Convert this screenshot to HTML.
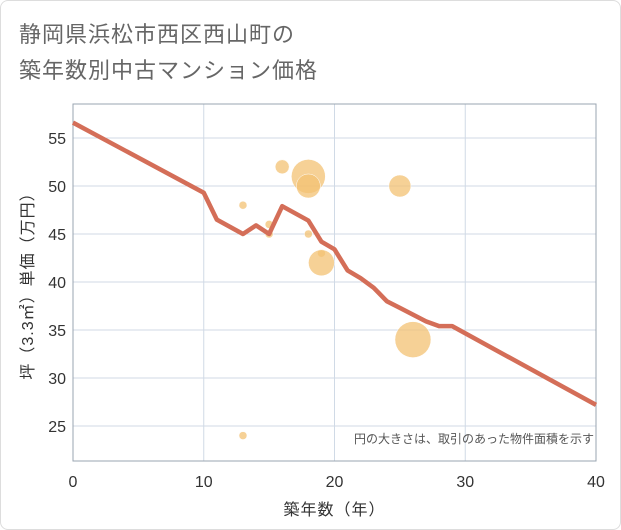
<!DOCTYPE html>
<html><head><meta charset="utf-8">
<style>
html,body{margin:0;padding:0;background:#fff;}
#wrap{position:relative;width:619px;height:528px;border:1px solid #ddd;border-radius:8px;overflow:hidden;font-family:"Liberation Sans","Noto Sans CJK JP",sans-serif;}
.title{position:absolute;left:18px;font-size:22px;color:#666;letter-spacing:1px;}
</style></head><body>
<div id="wrap">
<div class="title" style="top:16px">静岡県浜松市西区西山町の</div>
<div class="title" style="top:52px">築年数別中古マンション価格</div>
<svg id="chart" width="621" height="530" style="position:absolute;left:-1px;top:-1px"></svg>
</div>
<script>
const xTicks=[0,10,20,30,40];
const yTicks=[25,30,35,40,45,50,55];
const lineX=[0,10,11,13,14,15,16,18,19,20,21,22,23,24,25,26,27,28,29,40];
const lineY=[56.6,49.3,46.5,45,45.9,45,47.9,46.4,44.2,43.4,41.2,40.4,39.4,38,37.3,36.6,35.9,35.4,35.4,27.2];
const bubX=[13,13,15,15,16,18,18,18,19,19,25,26];
const bubY=[48,24,46,45,52,51,50,45,43,42,50,34];
const bubSize=[4,4,4,4,7,17,12,4,4,13,11,18];
const L=73,R=596,T=104,B=461;
const sx=v=>L+(v-0)/(40-0)*(R-L);
const sy=v=>186+(50-v)*9.6;
const NS="http://www.w3.org/2000/svg";
const svg=document.getElementById('chart');
function mk(t,a){const e=document.createElementNS(NS,t);for(const k in a)e.setAttribute(k,a[k]);svg.appendChild(e);return e;}
xTicks.forEach(v=>{
 const g=mk('line',{x1:sx(v),x2:sx(v),y1:T,y2:B,stroke:'#d0dae6','stroke-width':1});
 
 
 const t=mk('text',{x:sx(v),y:487,'text-anchor':'middle','font-size':16,fill:'#333'});
 t.textContent=v;
 
 
});
yTicks.forEach(v=>{
 const g=mk('line',{x1:L,x2:R,y1:sy(v),y2:sy(v),stroke:'#d0dae6','stroke-width':1});
 
 
 const t=mk('text',{x:66,y:sy(v)+6,'text-anchor':'end','font-size':16,fill:'#333'});
 t.textContent=v;
 
 
});
const fr=mk('rect',{x:L,y:T,width:R-L,height:B-T,fill:'none',stroke:'#9aa4b0','stroke-width':1});


bubX.forEach((v,i)=>{
 const c=mk('circle',{cx:sx(v),cy:sy(bubY[i]),r:bubSize[i],fill:'#f3c173','fill-opacity':0.75,stroke:'#fff','stroke-width':0.5});
 
 
});
const p=mk('polyline',{points:lineX.map((v,i)=>sx(v)+','+sy(lineY[i])).join(' '),fill:'none',stroke:'#d46e58','stroke-width':4.5,'stroke-linejoin':'round'});


const n=mk('text',{x:594,y:443,'text-anchor':'end','font-size':12,fill:'#555'});
n.textContent='円の大きさは、取引のあった物件面積を示す';


const xt=mk('text',{x:(L+R)/2,y:515,'text-anchor':'middle','font-size':16,fill:'#333','letter-spacing':1});
xt.textContent='築年数（年）';


const yt=mk('text',{x:0,y:0,'text-anchor':'middle','font-size':16,fill:'#333','letter-spacing':1,transform:'translate(33,282) rotate(-90)'});
yt.textContent='坪（3.3㎡）単価（万円）';


</script>
</body></html>
